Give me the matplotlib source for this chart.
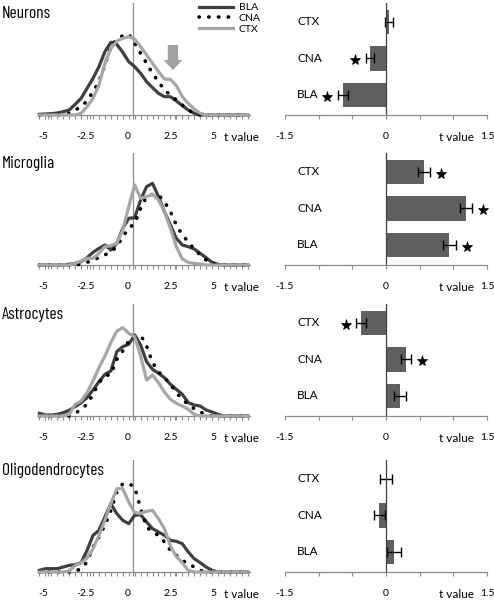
import numpy as np
import matplotlib
matplotlib.use('Agg')
import matplotlib.pyplot as plt
from matplotlib.transforms import ScaledTranslation

plt.rcParams['font.family'] = ['Lato', 'DejaVu Sans']

# t-value bins of the distributions (x axis of left panels)
T_BINS = np.round(np.arange(-5.5, 6.8, 0.35), 2)

CELL_TYPES = ['Neurons', 'Microglia', 'Astrocytes', 'Oligodendrocytes']
REGIONS = ['BLA', 'CNA', 'CTX']

# distribution of t values (relative frequency, arbitrary units)
neurons_bla = [2, 3, 4, 6, 10, 15, 32, 50, 80, 110, 145, 190, 218, 212, 188, 160, 145, 125,
               100, 82, 65, 55, 55, 42, 28, 15, 5, 0, 0, 0, 0, 0, 0, 0, 0, 0]
neurons_cna = [0, 0, 0, 0, 2, 5, 15, 25, 42, 70, 100, 150, 205, 228, 238, 243, 215, 185,
               155, 125, 100, 75, 60, 45, 30, 15, 5, 0, 0, 0, 0, 0, 0, 0, 0, 0]
neurons_ctx = [0, 0, 0, 0, 0, 0, 0, 5, 25, 50, 90, 155, 200, 222, 230, 235, 228, 205,
               180, 155, 130, 108, 107, 88, 55, 35, 18, 5, 0, 0, 0, 0, 0, 0, 0, 0]

microglia_bla = [0, 0, 0, 0, 0, 2, 5, 10, 22, 38, 50, 60, 45, 65, 110, 140, 142, 195,
                 235, 245, 205, 160, 120, 80, 60, 55, 48, 35, 22, 8, 2, 0, 0, 0, 0, 0]
microglia_cna = [0, 0, 0, 0, 0, 0, 0, 3, 8, 15, 22, 30, 40, 55, 85, 110, 125, 170,
                 205, 212, 210, 190, 160, 120, 90, 70, 48, 30, 15, 5, 0, 0, 0, 0, 0, 0]
microglia_ctx = [0, 0, 0, 0, 0, 0, 5, 12, 20, 20, 35, 55, 58, 65, 105, 175, 240, 200,
                 205, 212, 195, 160, 110, 55, 18, 8, 5, 3, 0, 0, 0, 0, 0, 0, 0, 0]

astro_bla = [8, 3, 3, 5, 10, 17, 28, 40, 55, 78, 103, 125, 135, 193, 208, 215, 243, 213,
             163, 140, 128, 115, 95, 80, 65, 40, 33, 30, 18, 12, 5, 0, 0, 0, 0, 0]
astro_cna = [0, 0, 0, 0, 0, 0, 8, 20, 35, 65, 100, 120, 125, 170, 195, 225, 232, 243,
             210, 160, 133, 115, 95, 70, 50, 35, 22, 12, 5, 0, 0, 0, 0, 0, 0, 0]
astro_ctx = [0, 0, 0, 0, 0, 5, 35, 45, 70, 105, 145, 180, 220, 255, 265, 248, 238, 180,
             108, 123, 100, 72, 50, 38, 30, 20, 5, 0, 0, 0, 0, 0, 0, 0, 0, 0]

oligo_bla = [5, 10, 10, 10, 15, 20, 22, 28, 65, 110, 125, 165, 205, 175, 155, 145, 170, 172,
             150, 130, 120, 110, 95, 92, 85, 60, 40, 28, 15, 5, 0, 0, 0, 0, 0, 0]
oligo_cna = [0, 0, 0, 0, 0, 0, 2, 10, 30, 75, 105, 140, 185, 240, 265, 265, 255, 190,
             135, 120, 110, 90, 65, 50, 35, 25, 15, 5, 0, 0, 0, 0, 0, 0, 0, 0]
oligo_ctx = [0, 0, 0, 0, 0, 3, 20, 28, 42, 70, 110, 155, 205, 250, 250, 210, 178, 176,
             182, 185, 160, 130, 78, 46, 28, 5, 0, 0, 0, 0, 0, 0, 0, 0, 0, 0]

# mean t value per region (order BLA, CNA, CTX), s.e.m. and significance
neurons_t = [-0.64, -0.24, 0.05]
neurons_err = [0.07, 0.06, 0.06]
neurons_sig = [True, True, False]

microglia_t = [0.94, 1.19, 0.57]
microglia_err = [0.10, 0.09, 0.09]
microglia_sig = [True, True, True]

astro_t = [0.21, 0.30, -0.37]
astro_err = [0.09, 0.075, 0.07]
astro_sig = [False, True, True]

oligo_t = [0.12, -0.10, 0.0]
oligo_err = [0.10, 0.08, 0.09]
oligo_sig = [False, False, False]

# t value highlighted by the arrow in the neurons panel
ARROW_T = 2.35

DISTS = [(neurons_bla, neurons_cna, neurons_ctx),
         (microglia_bla, microglia_cna, microglia_ctx),
         (astro_bla, astro_cna, astro_ctx),
         (oligo_bla, oligo_cna, oligo_ctx)]
MEANS = [(neurons_t, neurons_err, neurons_sig),
         (microglia_t, microglia_err, microglia_sig),
         (astro_t, astro_err, astro_sig),
         (oligo_t, oligo_err, oligo_sig)]

W, H = 494, 600
AXIS_Y = [115, 265, 416, 572]   # pixel row of each panel's x axis
PANEL_H = 112
AX_GRAY = '#8c8c8c'
TITLE_FONT = ['Barlow Condensed', 'Archivo Narrow', 'DejaVu Sans']


def _style_dist_axis(fig, ax):
  ax.set_xlim(-5.55, 6.9)
  ax.set_ylim(0, 336)
  ax.set_yticks([])
  for side in ('left', 'top', 'right'):
    ax.spines[side].set_visible(False)
  ax.spines['bottom'].set_color(AX_GRAY)
  ax.spines['bottom'].set_linewidth(0.9)
  ax.set_xticks([-5, -2.5, 0, 2.5, 5])
  ax.set_xticklabels(['-5', '-2.5', '0', '2.5', '5'])
  ax.set_xticks(T_BINS, minor=True)
  ax.tick_params(axis='x', which='both', direction='out', length=3,
                 color=AX_GRAY, width=0.8, labelsize=7.5, pad=9.5)
  shift = ScaledTranslation(-0.05, 0, fig.dpi_scale_trans)
  for label in ax.get_xticklabels():
    label.set_transform(label.get_transform() + shift)
  ax.axvline(0, color=AX_GRAY, lw=0.9, zorder=1)
  ax.annotate('t value', xy=(6.4, 0), xycoords=('data', 'axes fraction'),
              xytext=(0, -16), textcoords='offset points',
              ha='center', va='center', fontsize=8.5)
  ax.patch.set_alpha(0)


def _plot_dist(fig, ax, bla, cna, ctx):
  ax.plot(T_BINS, bla, color='#3f3f3f', lw=2.3, label='BLA', clip_on=False,
          solid_joinstyle='round', zorder=3)
  ax.plot(T_BINS, cna, color='black', lw=2.6, linestyle=(0, (0.1, 2.6)),
          dash_capstyle='round', label='CNA', clip_on=False, zorder=4)
  ax.plot(T_BINS, ctx, color='#a6a6a6', lw=2.3, label='CTX', clip_on=False,
          solid_joinstyle='round', zorder=5)
  _style_dist_axis(fig, ax)


def _plot_means(ax, vals, errs, sig):
  ypos = np.arange(len(REGIONS))
  ax.barh(ypos, vals, height=0.68, color='#5f5f5f', xerr=errs,
          error_kw=dict(ecolor='black', elinewidth=1, capsize=3.5, capthick=1))
  ax.set_xlim(-1.5, 1.5)
  ax.set_ylim(-0.55, 2.52)
  ax.set_yticks([])
  for side in ('left', 'top', 'right'):
    ax.spines[side].set_visible(False)
  ax.spines['bottom'].set_color(AX_GRAY)
  ax.spines['bottom'].set_linewidth(0.9)
  ax.axvline(0, color='#404040', lw=0.9)
  ax.set_xticks(np.arange(-1.5, 1.51, 0.5))
  ax.set_xticklabels(['-1.5', '', '', '0', '', '', '1.5'])
  ax.tick_params(axis='x', direction='out', length=3, color=AX_GRAY,
                 width=0.8, labelsize=7.5, pad=9.5)
  for y, name in zip(ypos, REGIONS):
    ax.text(-1.32, y, name, ha='left', va='center', fontsize=8.5)
  for y, v, e, s in zip(ypos, vals, errs, sig):
    if s:
      sx = v + np.sign(v) * (e + 0.16)
      ax.plot(sx, y - 0.05, marker='*', color='black', ms=8, mew=0.5,
              clip_on=False)
  ax.annotate('t value', xy=(1.04, 0), xycoords=('data', 'axes fraction'),
              xytext=(0, -16), textcoords='offset points',
              ha='center', va='center', fontsize=8.5)
  ax.patch.set_alpha(0)


fig = plt.figure(figsize=(W / 100, H / 100), dpi=100)

for i, name in enumerate(CELL_TYPES):
  bottom = 1 - AXIS_Y[i] / H
  height = PANEL_H / H
  ax_d = fig.add_axes([38.6 / W, bottom, (250.3 - 38.6) / W, height])
  _plot_dist(fig, ax_d, *DISTS[i])
  ax_m = fig.add_axes([285 / W, bottom, 202 / W, height])
  _plot_means(ax_m, *MEANS[i])
  fig.text(2 / W, 1 - (AXIS_Y[i] - 97) / H, name, fontsize=12.5,
           family=TITLE_FONT, va='baseline', ha='left')
  if i == 0:
    ax_d.arrow(ARROW_T, 210, 0, -75, width=0.6, head_width=1.1, head_length=30,
               length_includes_head=True, color='#a0a0a0', lw=0, zorder=6)
    fig.legend(*ax_d.get_legend_handles_labels(), loc='upper left',
               bbox_to_anchor=(199 / W, 1 - 3 / H), frameon=False,
               fontsize=7.5, handlelength=3.3, handletextpad=0.5,
               labelspacing=0.15, borderpad=0, borderaxespad=0)

fig.savefig('out.png', dpi=100)
